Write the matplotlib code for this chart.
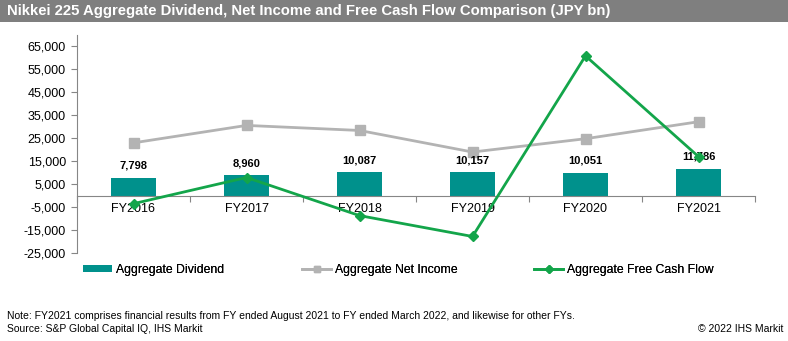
import matplotlib.pyplot as plt
from matplotlib.ticker import FuncFormatter, FixedLocator
from matplotlib.lines import Line2D
from matplotlib.patches import Patch

years = ['FY2016', 'FY2017', 'FY2018', 'FY2019', 'FY2020', 'FY2021']
dividend = [7798, 8960, 10087, 10157, 10051, 11786]
net_income = [23000, 30600, 28400, 19000, 24800, 32200]
free_cash_flow = [-3500, 7900, -8700, -17800, 60900, 17000]

plt.rcParams['font.family'] = ['Liberation Sans', 'DejaVu Sans']

teal = '#00918c'
grey = '#b3b3b3'
green = '#13a54a'

fig = plt.figure(figsize=(7.88, 3.41), dpi=100)

# title bar
fig.patches.append(plt.Rectangle((0, 1 - 22 / 341), 1, 22 / 341, transform=fig.transFigure,
                                 facecolor='#7f7f7f', edgecolor='none', zorder=0))
fig.text(7 / 788, 1 - 11 / 341, 'Nikkei 225 Aggregate Dividend, Net Income and Free Cash Flow Comparison (JPY bn)',
         color='white', fontsize=10.7, fontweight='bold', va='center', ha='left')

ax = fig.add_axes([77 / 788, 1 - 253 / 341, 678 / 788, 218 / 341])
x = list(range(len(years)))

ax.bar(x, dividend, width=0.4, color=teal, zorder=2)
ax.plot(x, net_income, color=grey, lw=2, marker='s', ms=7, zorder=3)
ax.plot(x, free_cash_flow, color=green, lw=2, marker='D', ms=5, zorder=4)

for xi, v in zip(x, dividend):
    ax.text(xi, v + 3000, f'{v:,}', ha='center', va='bottom', fontsize=8, fontweight='bold')

ax.set_xlim(-0.5, len(years) - 0.5)
ax.set_ylim(-25000, 70000)
ax.set_yticks(range(-25000, 70000, 10000))
ax.yaxis.set_major_formatter(FuncFormatter(lambda v, p: f'{int(v):,}'))

ax.spines['bottom'].set_position(('data', 0))
for s in ['top', 'right']:
    ax.spines[s].set_visible(False)
for s in ['left', 'bottom']:
    ax.spines[s].set_color('#868686')
    ax.spines[s].set_linewidth(0.8)

# boundary ticks, labels in the middle
ax.xaxis.set_major_locator(FixedLocator([i - 0.5 for i in range(len(years) + 1)]))
ax.xaxis.set_minor_locator(FixedLocator(x))
ax.set_xticklabels([''] * (len(years) + 1))
ax.set_xticklabels(years, minor=True)
ax.tick_params(axis='x', which='major', length=4, color='#868686', direction='out')
ax.tick_params(axis='x', which='minor', length=0, pad=5, labelsize=9)
ax.tick_params(axis='y', length=4, color='#868686', labelsize=9, pad=4)

handles = [
    Patch(facecolor=teal),
    Line2D([], [], color=grey, lw=2, marker='s', ms=5),
    Line2D([], [], color=green, lw=2, marker='D', ms=4),
]
labels = ['Aggregate Dividend', 'Aggregate Net Income', 'Aggregate Free Cash Flow']
legend_x = [72, 291, 523]
for h, lab, lx in zip(handles, labels, legend_x):
    leg = fig.legend([h], [lab], loc='center left', bbox_to_anchor=(lx / 788, 1 - 270 / 341),
                     frameon=False, fontsize=8.8, handlelength=2.4, handleheight=0.5,
                     handletextpad=0.3)
    fig.add_artist(leg)

fig.text(7 / 788, 1 - 316 / 341, 'Note: FY2021 comprises financial results from FY ended August 2021 to FY ended March 2022, and likewise for other FYs.',
         fontsize=7.5, va='center')
fig.text(7 / 788, 1 - 329 / 341, 'Source: S&P Global Capital IQ, IHS Markit', fontsize=7.5, va='center')
fig.text(783 / 788, 1 - 329 / 341, '\u00a9 2022 IHS Markit', fontsize=7.5, va='center', ha='right')

fig.savefig('out.png', dpi=100)
